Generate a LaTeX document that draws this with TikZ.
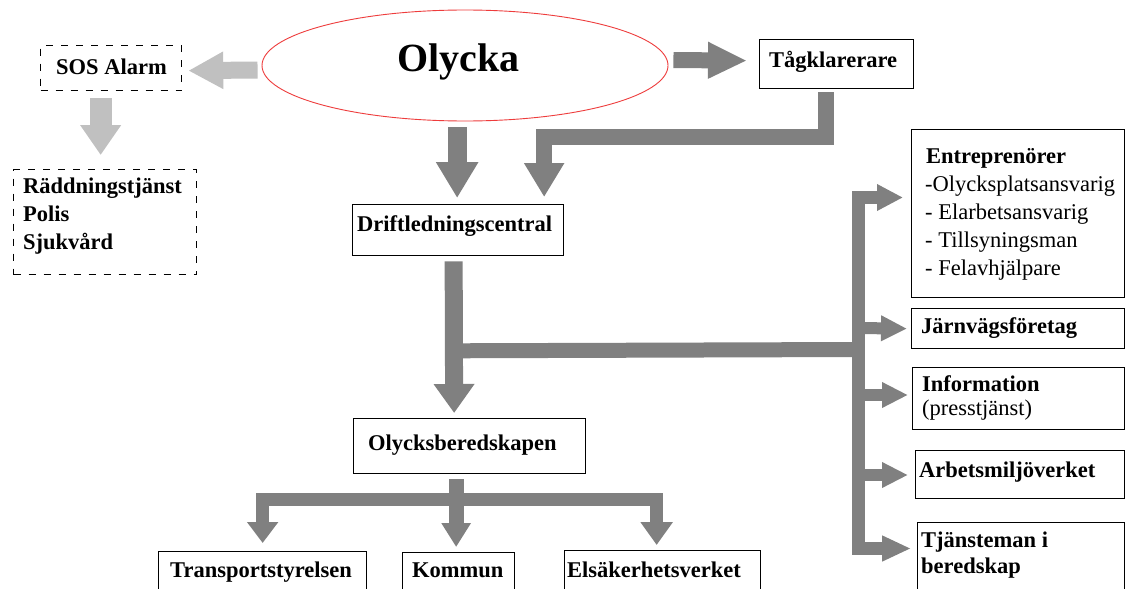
\documentclass[tikz,border=0pt]{standalone}
\usepackage{fontspec}
\setmainfont{Liberation Serif}
\usetikzlibrary{arrows.meta,calc,shapes.geometric}
\definecolor{dg}{RGB}{128,128,128}
\definecolor{lg}{RGB}{192,192,192}
\definecolor{ered}{RGB}{238,60,60}
\newcommand\fsz{\fontsize{22.5pt}{28pt}\selectfont}
\begin{document}
\begin{tikzpicture}[x=1pt,y=-1pt,
  bx/.style={draw=black, line width=1.3pt, inner sep=0pt, anchor=north west},
  dbx/.style={bx, dash pattern=on 7pt off 8pt},
  bt/.style={anchor=base west, inner sep=0pt, font=\fsz\bfseries},
  rt/.style={anchor=base west, inner sep=0pt, font=\fsz},
  bigarr/.style={draw=#1, line width=19pt, -{Triangle[width=40pt,length=36pt]}},
  brarr/.style={draw=dg, line width=12pt, -{Triangle[width=24pt,length=26pt]}}
]
\useasboundingbox (0,0) rectangle (1125,589);
\fill[white] (0,0) rectangle (1125,589);
\clip (0,0) rectangle (1125,589);

% ---------- nodes ----------
\node[ellipse, draw=ered, line width=0.9pt, minimum width=406pt, minimum height=111pt, inner sep=0pt] (olycka) at (465,65.5) {};
\node[anchor=base west, inner sep=0pt, font=\fontsize{40pt}{44pt}\selectfont\bfseries] (olycka-t) at (397,71) {Olycka};

\node[dbx, minimum width=141pt, minimum height=45pt] (sos) at (40,45) {};
\node[bt] (sos-t) at (56,74) {SOS Alarm};

\node[dbx, minimum width=183pt, minimum height=105pt] (radd) at (13,169) {};
\node[bt] (radd-t1) at (23,193) {Räddningstjänst};
\node[bt] (radd-t2) at (23,221) {Polis};
\node[bt] (radd-t3) at (23,249) {Sjukvård};

\node[bx, minimum width=154pt, minimum height=49pt] (tag) at (759,39) {};
\node[bt] (tag-t) at (769,67) {Tågklarerare};

\node[bx, minimum width=211pt, minimum height=51pt] (drift) at (352,204) {};
\node[bt] (drift-t) at (357,231) {Driftledningscentral};

\node[bx, minimum width=232pt, minimum height=55pt] (olycksb) at (353,418) {};
\node[bt] (olycksb-t) at (368,450) {Olycksberedskapen};

\node[bx, minimum width=208pt, minimum height=60pt] (transport) at (158,551) {};
\node[bt] (transport-t) at (170,577) {Transportstyrelsen};

\node[bx, minimum width=112pt, minimum height=60pt] (kommun) at (402,552) {};
\node[bt] (kommun-t) at (412,577) {Kommun};

\node[bx, minimum width=196pt, minimum height=60pt] (elsak) at (564,550) {};
\node[bt] (elsak-t) at (567,577) {Elsäkerhetsverket};

\node[bx, minimum width=212.5pt, minimum height=168pt] (entr) at (911,129) {};
\node[bt] (entr-t0) at (926,163) {Entreprenörer};
\node[rt] (entr-t1) at (925,191) {-Olycksplatsansvarig};
\node[rt] (entr-t2) at (925,219) {- Elarbetsansvarig};
\node[rt] (entr-t3) at (925,247) {- Tillsyningsman};
\node[rt] (entr-t4) at (925,275) {- Felavhjälpare};

\node[bx, minimum width=212.5pt, minimum height=40pt] (jarn) at (911,308) {};
\node[bt] (jarn-t) at (921,333) {Järnvägsföretag};

\node[bx, minimum width=211.5pt, minimum height=62pt] (info) at (912,367) {};
\node[bt] (info-t1) at (922,391) {Information};
\node[rt] (info-t2) at (922,415) {(presstjänst)};

\node[bx, minimum width=208.5pt, minimum height=48pt] (arbets) at (915,450) {};
\node[bt] (arbets-t) at (919,477) {Arbetsmiljöverket};

\node[bx, minimum width=206.5pt, minimum height=80pt] (tjan) at (917,522) {};
\node[bt] (tjan-t1) at (921,547) {Tjänsteman i};
\node[bt] (tjan-t2) at (921,573) {beredskap};

\coordinate (busx) at (858.5,0);

% ---------- connectors ----------
% Olycka -> SOS Alarm (light)
\draw[draw=lg, line width=17pt, -{Triangle[width=35pt,length=35pt]}]
  ($(olycka.west)+(-4,4.5)$) -- ($(sos.east)+(6,2.5)$);
% SOS Alarm -> Räddningstjänst (light)
\draw[draw=lg, line width=22pt, -{Triangle[width=39pt,length=30pt]}]
  ($(sos.south)+(-10.5,7)$) -- ($(radd.north)+(-4.5,-14)$);
% Olycka -> Driftledningscentral
\draw[bigarr=dg] ($(drift.north |- olycka.south)+(-1,6)$) -- ($(drift.north)+(-1,-6)$);
% Olycka -> Tågklarerare
\draw[draw=dg, line width=16pt, -{Triangle[width=34pt,length=39pt]}]
  ($(olycka.east)+(5,-5.5)$) -- ($(tag.west)+(-12,-3.5)$);
% Tågklarerare -> Driftledningscentral
\draw[draw=dg, line width=16pt, -{Triangle[width=38pt,length=34pt]}]
  ($(tag.south)+(-10.5,3)$) |- ($(drift.north)+(86,-67.5)$) -- ($(drift.north)+(86,-7)$);
% Driftledningscentral -> Olycksberedskapen
\draw[draw=dg, line width=18pt, -{Triangle[width=39pt,length=29pt]}]
  ($(drift.south)+(-4.5,5)$) -- ($(olycksb.north)+(-15.5,-5)$);
% Driftledningscentral -> bus
\draw[draw=dg, line width=15pt] ($(drift.south)+(-4.5,94.5)$) -- ($(busx)+(0,349.5)$);
% bus with top and bottom branches
\draw[draw=dg, line width=13pt, {Triangle[width=25pt,length=26pt]}-{Triangle[width=24pt,length=29pt]}]
  ($(entr.north west)+(-8,68.5)$) -| ($(busx)+(0,548.5)$) -- ($(tjan.north west)+(-6,26.5)$);
% middle branches
\draw[brarr] ($(busx)+(0,328)$) -- ($(jarn.west)+(-4,0)$);
\draw[brarr] ($(busx)+(0,395)$) -- ($(info.north west)+(-4,28)$);
\draw[brarr] ($(busx)+(0,475)$) -- ($(arbets.north west)+(-7,25)$);
% Olycksberedskapen -> bottom row
\draw[draw=dg, line width=13pt, {Triangle[width=30pt,length=21pt]}-{Triangle[width=31pt,length=23pt]}]
  ($(transport.north)+(0,-8)$) |- ($(elsak.north)+(-6,-50.5)$) -- ($(elsak.north)+(-6,-5)$);
\draw[draw=dg, line width=15pt, -{Triangle[width=28pt,length=24pt]}]
  ($(olycksb.south)+(-13.5,5)$) -- ($(olycksb.south |- kommun.north)+(-13.5,-5)$);
\end{tikzpicture}
\end{document}
